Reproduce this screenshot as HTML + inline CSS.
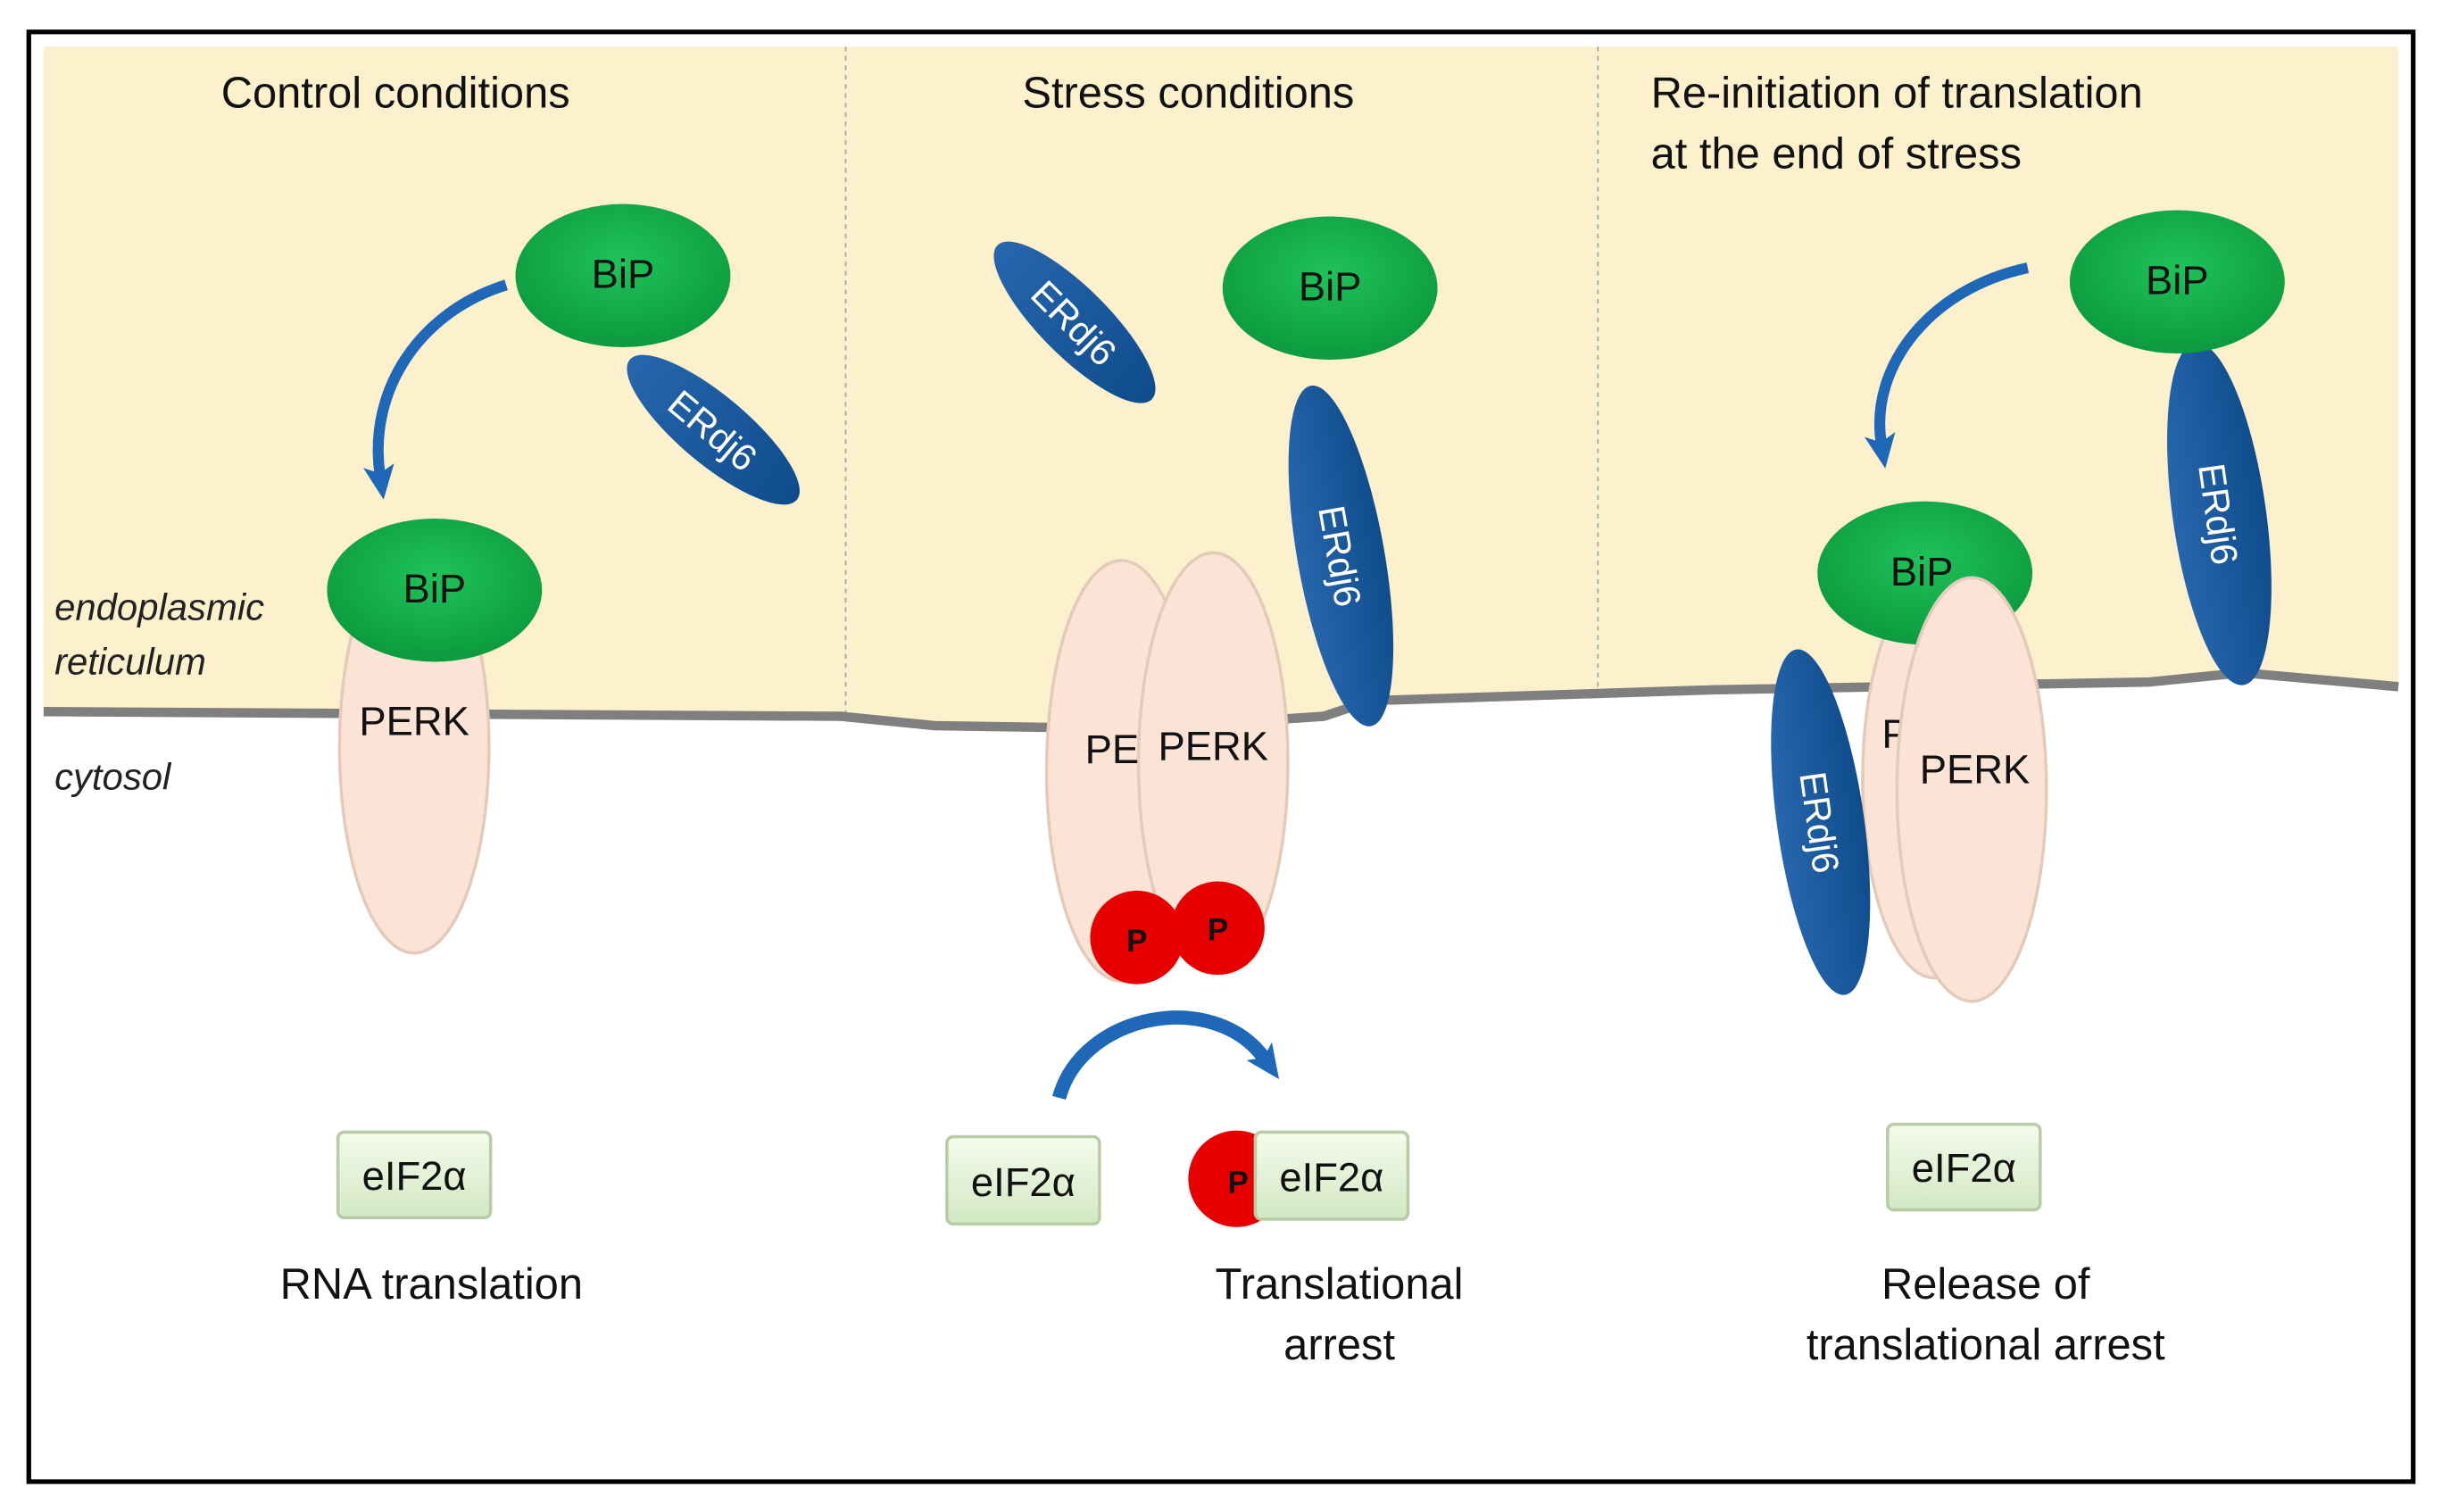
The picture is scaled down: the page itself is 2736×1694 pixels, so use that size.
<!DOCTYPE html>
<html><head><meta charset="utf-8"><style>
html,body{margin:0;padding:0;background:#fff}
svg{display:block}
text{font-family:"Liberation Sans",sans-serif}
</style></head><body>
<svg width="2736" height="1694" viewBox="0 0 1568 971" preserveAspectRatio="none" xmlns="http://www.w3.org/2000/svg">
<defs>
<radialGradient id="g" cx="50%" cy="40%" r="60%"><stop offset="0" stop-color="#1fc25a"/><stop offset="1" stop-color="#0c9a3e"/></radialGradient>
<linearGradient id="b" x1="0" y1="0" x2="1" y2="0"><stop offset="0" stop-color="#2766ad"/><stop offset="1" stop-color="#0f4c8c"/></linearGradient>
<linearGradient id="e" x1="0" y1="0" x2="0" y2="1"><stop offset="0" stop-color="#f4fbec"/><stop offset="1" stop-color="#d3e8c3"/></linearGradient>
<marker id="ah" markerUnits="userSpaceOnUse" markerWidth="22" markerHeight="20" refX="6" refY="10" orient="auto"><path d="M0,0 L22,10 L0,20 L5,10 z" fill="#1f68b8"/></marker>
</defs>
<rect x="0" y="0" width="1568" height="971" fill="#fff"/>
<rect x="18.5" y="20.5" width="1531" height="931" fill="#fff" stroke="#000" stroke-width="3"/>
<path d="M28,30 H1540 V440 L1440,432 L1380,438 L1100,442 L880,450 L850,460 L730,468 L600,466 L540,460 L28,456 Z" fill="#fdf0cc"/>
<line x1="543" y1="30" x2="543" y2="462" stroke="#9aa" stroke-dasharray="3,3" stroke-width="1"/>
<line x1="1026" y1="30" x2="1026" y2="446" stroke="#9aa" stroke-dasharray="3,3" stroke-width="1"/>
<path d="M28,457 L540,460 L600,466 L730,468 L850,460 L880,450 L1100,443 L1380,438 L1440,432 L1540,441" fill="none" stroke="#7f7f7f" stroke-width="6"/>
<g font-size="28" fill="#111">
<text x="254" y="69" text-anchor="middle">Control conditions</text>
<text x="763" y="69" text-anchor="middle">Stress conditions</text>
<text x="1060" y="69">Re-initiation of translation</text>
<text x="1060" y="108">at the end of stress</text>
</g>
<g font-size="24" font-style="italic" fill="#222">
<text x="35" y="398">endoplasmic</text>
<text x="35" y="433">reticulum</text>
<text x="35" y="507">cytosol</text>
</g>
<!-- Panel 1 -->
<path d="M325,183 C270,200 236,250 244,305" fill="none" stroke="#1f68b8" stroke-width="7" marker-end="url(#ah)"/>
<ellipse cx="266" cy="480" rx="48" ry="132" fill="#fbe3d6" stroke="#e3cbbb" stroke-width="2"/>
<ellipse cx="279" cy="379" rx="69" ry="46" fill="url(#g)"/>
<text x="279" y="387" font-size="26" text-anchor="middle" fill="#111">BiP</text>
<text x="266" y="472" font-size="26" text-anchor="middle" fill="#111">PERK</text>
<ellipse cx="458" cy="276" rx="70" ry="22" transform="rotate(40 458 276)" fill="url(#b)"/>
<text x="458" y="285" font-size="24" text-anchor="middle" fill="#fff" transform="rotate(40 458 276)">ERdj6</text>
<ellipse cx="400" cy="177" rx="69" ry="46" fill="url(#g)"/>
<text x="400" y="185" font-size="26" text-anchor="middle" fill="#111">BiP</text>
<rect x="217" y="727" width="98" height="55" rx="4" fill="url(#e)" stroke="#b8cca8" stroke-width="2"/>
<text x="266" y="764" font-size="26" text-anchor="middle" fill="#111">eIF2α</text>
<text x="277" y="834" font-size="28" text-anchor="middle" fill="#111">RNA translation</text>
<!-- Panel 2 -->
<ellipse cx="690" cy="207" rx="70" ry="22" transform="rotate(45 690 207)" fill="url(#b)"/>
<text x="690" y="216" font-size="24" text-anchor="middle" fill="#fff" transform="rotate(45 690 207)">ERdj6</text>
<ellipse cx="854" cy="185" rx="69" ry="46" fill="url(#g)"/>
<text x="854" y="193" font-size="26" text-anchor="middle" fill="#111">BiP</text>
<ellipse cx="861" cy="357" rx="28" ry="111" transform="rotate(-10 861 357)" fill="url(#b)"/>
<text x="861" y="366" font-size="24" text-anchor="middle" fill="#fff" transform="rotate(80 861 357)">ERdj6</text>
<ellipse cx="720" cy="495" rx="48" ry="135" fill="#fbe3d6" stroke="#e3cbbb" stroke-width="2"/>
<ellipse cx="779" cy="490" rx="48" ry="135" fill="#fbe3d6" stroke="#e3cbbb" stroke-width="2"/>
<text x="714" y="490" font-size="26" text-anchor="middle" fill="#111">PE</text>
<text x="779" y="488" font-size="26" text-anchor="middle" fill="#111">PERK</text>
<circle cx="730" cy="602" r="30" fill="#e80000"/>
<circle cx="782" cy="596" r="30" fill="#e80000"/>
<text x="730" y="611" font-size="20" font-weight="bold" text-anchor="middle" fill="#111">P</text>
<text x="782" y="604" font-size="20" font-weight="bold" text-anchor="middle" fill="#111">P</text>
<path d="M680,705 C695,650 780,635 812,680" fill="none" stroke="#1f68b8" stroke-width="9" marker-end="url(#ah)"/>
<rect x="608" y="730" width="98" height="56" rx="4" fill="url(#e)" stroke="#b8cca8" stroke-width="2"/>
<text x="657" y="768" font-size="26" text-anchor="middle" fill="#111">eIF2α</text>
<circle cx="794" cy="757" r="31" fill="#e80000"/>
<rect x="806" y="727" width="98" height="56" rx="4" fill="url(#e)" stroke="#b8cca8" stroke-width="2"/>
<text x="795" y="766" font-size="20" font-weight="bold" text-anchor="middle" fill="#111">P</text>
<text x="855" y="765" font-size="26" text-anchor="middle" fill="#111">eIF2α</text>
<text x="860" y="834" font-size="28" text-anchor="middle" fill="#111">Translational</text>
<text x="860" y="873" font-size="28" text-anchor="middle" fill="#111">arrest</text>
<!-- Panel 3 -->
<path d="M1302,172 C1240,185 1200,235 1208,285" fill="none" stroke="#1f68b8" stroke-width="7" marker-end="url(#ah)"/>
<ellipse cx="1425" cy="330" rx="30" ry="111" transform="rotate(-8 1425 330)" fill="url(#b)"/>
<text x="1425" y="339" font-size="24" text-anchor="middle" fill="#fff" transform="rotate(82 1425 330)">ERdj6</text>
<ellipse cx="1398" cy="181" rx="69" ry="46" fill="url(#g)"/>
<text x="1398" y="189" font-size="26" text-anchor="middle" fill="#111">BiP</text>
<ellipse cx="1242" cy="500" rx="46" ry="128" fill="#fbe3d6" stroke="#e3cbbb" stroke-width="2"/>
<ellipse cx="1236" cy="368" rx="69" ry="46" fill="url(#g)"/>
<text x="1234" y="376" font-size="26" text-anchor="middle" fill="#111">BiP</text>
<text x="1217" y="480" font-size="26" text-anchor="middle" fill="#111">P</text>
<ellipse cx="1266" cy="507" rx="48" ry="136" fill="#fbe3d6" stroke="#e3cbbb" stroke-width="2"/>
<text x="1268" y="503" font-size="26" text-anchor="middle" fill="#111">PERK</text>
<ellipse cx="1169" cy="528" rx="28" ry="112" transform="rotate(-8 1169 528)" fill="url(#b)"/>
<text x="1169" y="537" font-size="24" text-anchor="middle" fill="#fff" transform="rotate(82 1169 528)">ERdj6</text>
<rect x="1212" y="722" width="98" height="55" rx="4" fill="url(#e)" stroke="#b8cca8" stroke-width="2"/>
<text x="1261" y="759" font-size="26" text-anchor="middle" fill="#111">eIF2α</text>
<text x="1275" y="834" font-size="28" text-anchor="middle" fill="#111">Release of</text>
<text x="1275" y="873" font-size="28" text-anchor="middle" fill="#111">translational arrest</text>
</svg>
</body></html>
